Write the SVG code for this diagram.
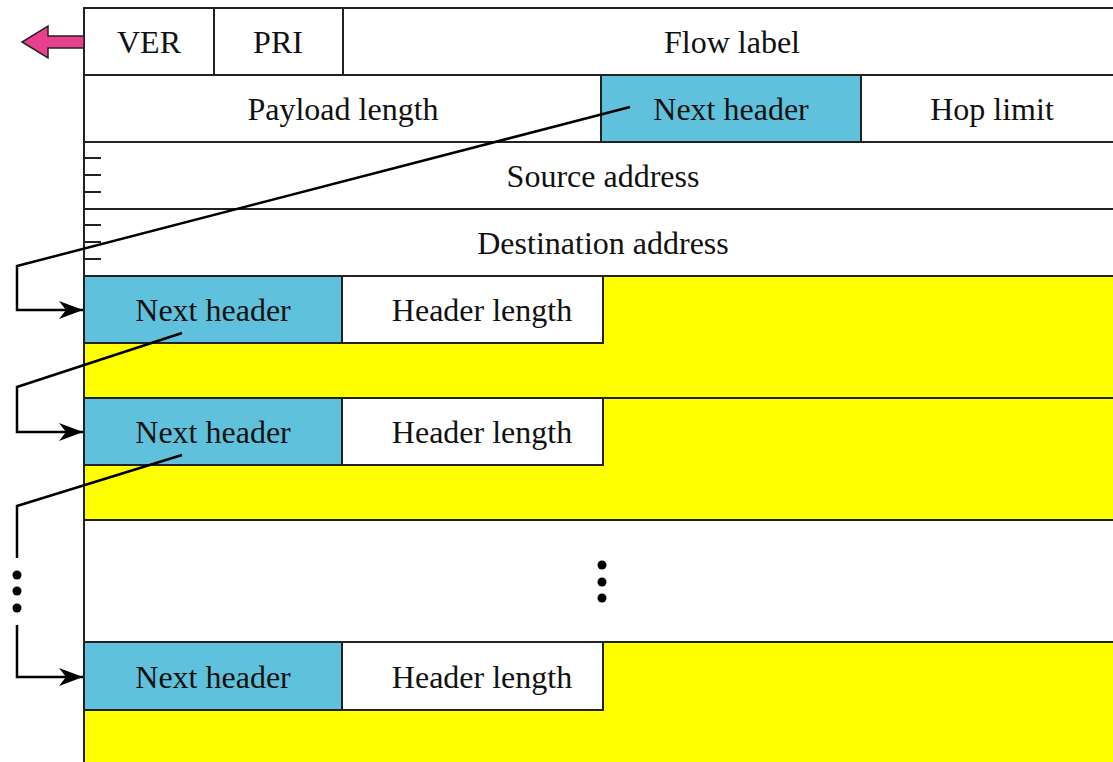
<svg xmlns="http://www.w3.org/2000/svg" width="1113" height="762" viewBox="0 0 1113 762">
<style>
.cell{stroke:#222;stroke-width:2}
.w{fill:#fff}
.b{fill:#5fc1db}
.y{fill:#ffff00}
.t{font-family:"Liberation Serif","Times New Roman",serif;font-size:32px;fill:#111;text-anchor:middle}
.tick{stroke:#222;stroke-width:2}
.conn{fill:none;stroke:#000;stroke-width:2.5}
.dot{fill:#000}
</style>
<defs>
<marker id="ah" markerUnits="userSpaceOnUse" markerWidth="26" markerHeight="20" refX="24" refY="10" orient="auto">
<path d="M0,1 L24,10 L0,19 L7,10 Z" fill="#000"/>
</marker>
</defs>
<rect x="0" y="0" width="1113" height="762" fill="#fff"/>
<g id="row1">
<rect class="cell w" x="84" y="8" width="130" height="67"/>
<rect class="cell w" x="214" y="8" width="129" height="67"/>
<rect class="cell w" x="343" y="8" width="772" height="67"/>
<text class="t" x="149" y="53">VER</text>
<text class="t" x="278" y="53">PRI</text>
<text class="t" x="732" y="53">Flow label</text>
</g>
<g id="row2">
<rect class="cell w" x="84" y="75" width="517" height="67"/>
<rect class="cell b" x="601" y="75" width="260" height="67"/>
<rect class="cell w" x="861" y="75" width="254" height="67"/>
<text class="t" x="343" y="120">Payload length</text>
<text class="t" x="731" y="120">Next header</text>
<text class="t" x="992" y="120">Hop limit</text>
</g>
<g id="source">
<rect class="cell w" x="84" y="142" width="1031" height="67"/>
<line class="tick" x1="84" y1="158" x2="101" y2="158"/>
<line class="tick" x1="84" y1="175" x2="101" y2="175"/>
<line class="tick" x1="84" y1="192" x2="101" y2="192"/>
<text class="t" x="603" y="187">Source address</text>
</g>
<g id="destination">
<rect class="cell w" x="84" y="209" width="1031" height="67"/>
<line class="tick" x1="84" y1="225" x2="101" y2="225"/>
<line class="tick" x1="84" y1="242" x2="101" y2="242"/>
<line class="tick" x1="84" y1="259" x2="101" y2="259"/>
<text class="t" x="603" y="254">Destination address</text>
</g>
<g id="ext1">
<rect class="cell y" x="84" y="276" width="1031" height="122"/>
<rect class="cell b" x="84" y="276" width="258" height="67"/>
<rect class="cell w" x="342" y="276" width="261" height="67"/>
<text class="t" x="213" y="321">Next header</text>
<text class="t" x="482" y="321">Header length</text>
</g>
<g id="ext2">
<rect class="cell y" x="84" y="398" width="1031" height="122"/>
<rect class="cell b" x="84" y="398" width="258" height="67"/>
<rect class="cell w" x="342" y="398" width="261" height="67"/>
<text class="t" x="213" y="443">Next header</text>
<text class="t" x="482" y="443">Header length</text>
</g>
<g id="gap">
<rect class="cell w" x="84" y="520" width="1031" height="122"/>
<circle class="dot" cx="602" cy="565" r="4.5"/>
<circle class="dot" cx="602" cy="582" r="4.5"/>
<circle class="dot" cx="602" cy="598" r="4.5"/>
</g>
<g id="ext3">
<rect class="cell y" x="84" y="642" width="1031" height="130"/>
<rect class="cell b" x="84" y="642" width="258" height="68"/>
<rect class="cell w" x="342" y="642" width="261" height="68"/>
<text class="t" x="213" y="688">Next header</text>
<text class="t" x="482" y="688">Header length</text>
</g>
<g id="out-arrow">
<path d="M84,36 L48,36 L48,26 L22,42 L48,58 L48,48 L84,48 Z" fill="#e8408e" stroke="#222" stroke-width="1.5" stroke-linejoin="miter"/>
</g>
<g id="connectors">
<path class="conn" d="M630,107 L17,266 L17,310 L83,310" marker-end="url(#ah)"/>
<path class="conn" d="M182,333 L17,387 L17,432 L83,432" marker-end="url(#ah)"/>
<path class="conn" d="M182,455 L17,506 L17,558"/>
<circle class="dot" cx="17" cy="575" r="4.5"/>
<circle class="dot" cx="17" cy="591" r="4.5"/>
<circle class="dot" cx="17" cy="608" r="4.5"/>
<path class="conn" d="M17,625 L17,677 L83,677" marker-end="url(#ah)"/>
</g>
</svg>
